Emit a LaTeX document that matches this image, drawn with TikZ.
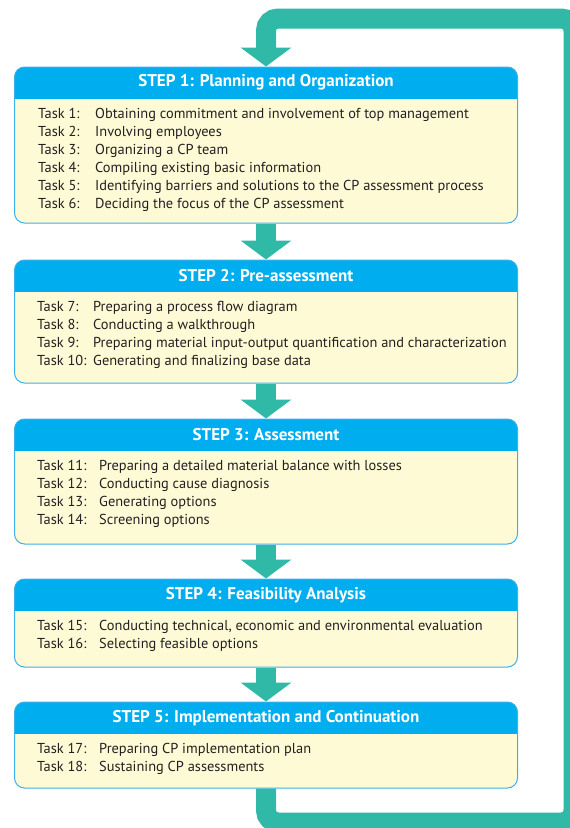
\documentclass[tikz,border=0pt]{standalone}
\usepackage{fontspec}
\setmainfont{PT Sans}
\usetikzlibrary{arrows.meta,positioning}

\definecolor{headblue}{RGB}{0,174,239}
\definecolor{edgeblue}{RGB}{60,176,232}
\definecolor{paleyellow}{RGB}{255,250,214}
\definecolor{loopteal}{RGB}{47,185,166}
\definecolor{inkgray}{RGB}{35,31,32}

\tikzset{
  stepbox/.style={rectangle, rounded corners=10pt, draw=edgeblue, line width=1pt,
    fill=paleyellow, minimum width=503pt, inner sep=0pt,
    path picture={\fill[headblue, sharp corners] (path picture bounding box.north west)
      rectangle ([yshift=-32pt]path picture bounding box.north east);}},
  steptitle/.style={text=white, font=\bfseries\fontsize{17}{18}\selectfont,
    minimum height=32pt, inner sep=0pt},
  tasklist/.style={text=inkgray, font=\fontsize{14.4}{18}\selectfont, inner sep=0pt},
  flow/.style={draw=loopteal, line width=20pt, -{Triangle[width=50pt,length=19pt]}}
}

\begin{document}
\begin{tikzpicture}[x=1pt, y=-1pt]
    % Fix the size of the page
    \useasboundingbox (0,0) rectangle (570,828);
    \clip (0,0) rectangle (570,828);

    % Draw the five step boxes
    \node[stepbox, minimum height=156pt] (s1) at (266,145) {};
    \node[stepbox, minimum height=123pt] (s2) at (266,321.5) {};
    \node[stepbox, minimum height=125pt] (s3) at (266,481.5) {};
    \node[stepbox, minimum height=88pt] (s4) at (266,623) {};
    \node[stepbox, minimum height=86pt] (s5) at (266,745) {};

    % Place the step titles in the blue bars
    \node[steptitle, below=0pt of s1.north] (h1) {STEP 1: Planning and Organization};
    \node[steptitle, below=0pt of s2.north] (h2) {STEP 2: Pre-assessment};
    \node[steptitle, below=0pt of s3.north] (h3) {STEP 3: Assessment};
    \node[steptitle, below=0pt of s4.north] (h4) {STEP 4: Feasibility Analysis};
    \node[steptitle, below=0pt of s5.north] (h5) {STEP 5: Implementation and Continuation};

    % Place the tasks of each step
    \node[tasklist, below right=39pt and 24pt of s1.north west] (t1) {%
      \begin{tabular}{@{}p{57pt}@{}l@{}}
        Task 1: & Obtaining commitment and involvement of top management\\
        Task 2: & Involving employees\\
        Task 3: & Organizing a CP team\\
        Task 4: & Compiling existing basic information\\
        Task 5: & Identifying barriers and solutions to the CP assessment process\\
        Task 6: & Deciding the focus of the CP assessment
      \end{tabular}};
    \node[tasklist, below right=39pt and 23pt of s2.north west] (t2) {%
      \begin{tabular}{@{}p{56pt}@{}l@{}}
        Task 7: & Preparing a process flow diagram\\
        Task 8: & Conducting a walkthrough\\
        Task 9: & Preparing material input-output quantification and characterization\\
        Task 10: & Generating and finalizing base data
      \end{tabular}};
    \node[tasklist, below right=39pt and 23pt of s3.north west] (t3) {%
      \begin{tabular}{@{}p{62pt}@{}l@{}}
        Task 11: & Preparing a detailed material balance with losses\\
        Task 12: & Conducting cause diagnosis\\
        Task 13: & Generating options\\
        Task 14: & Screening options
      \end{tabular}};
    \node[tasklist, below right=39pt and 23pt of s4.north west] (t4) {%
      \begin{tabular}{@{}p{62pt}@{}l@{}}
        Task 15: & Conducting technical, economic and environmental evaluation\\
        Task 16: & Selecting feasible options
      \end{tabular}};
    \node[tasklist, below right=39pt and 23pt of s5.north west] (t5) {%
      \begin{tabular}{@{}p{62pt}@{}l@{}}
        Task 17: & Preparing CP implementation plan\\
        Task 18: & Sustaining CP assessments
      \end{tabular}};

    % Draw the arrows from step to step
    \draw[flow] (s1.south) -- (s2.north);
    \draw[flow] (s2.south) -- (s3.north);
    \draw[flow] (s3.south) -- (s4.north);
    \draw[flow] (s4.south) -- (s5.north);

    % Draw the loop back to step 1
    \coordinate (loopbr) at (573.5,822.5);
    \coordinate (looptr) at (573.5,18.5);
    \draw[flow, rounded corners=12pt] (s5.south) -- (s5.south |- loopbr) -- (loopbr)
      -- (looptr) -- (s1.north |- looptr) -- (s1.north);

\end{tikzpicture}
\end{document}
